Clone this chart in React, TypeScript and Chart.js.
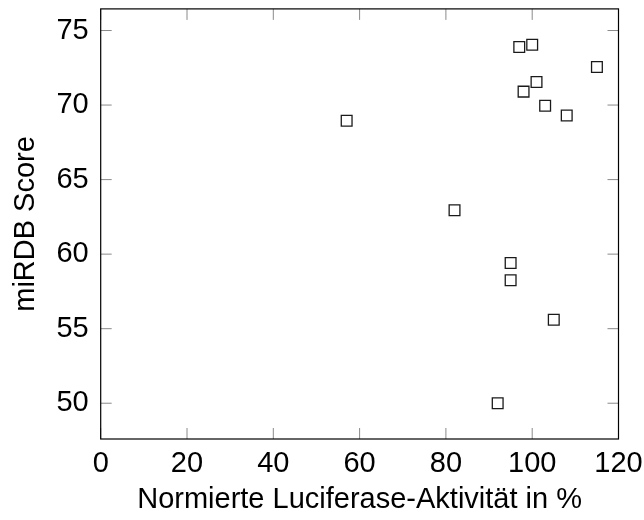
import { useEffect, useRef } from "react";
import { Chart, registerables } from "chart.js";

Chart.register(...registerables);

// Normalised luciferase activity (%) against miRDB target score
const activity = [97, 100, 115, 101, 98, 103, 108, 57, 82, 95, 95, 105, 92];
const score = [73.9, 74.05, 72.55, 71.55, 70.9, 69.95, 69.3, 68.95, 62.95, 59.4, 58.25, 55.6, 50.0];

const xTickValues = [0, 20, 40, 60, 80, 100, 120];
const yTickValues = [50, 55, 60, 65, 70, 75];

const xLabel = "Normierte Luciferase-Aktivität in %";
const yLabel = "miRDB Score";

const FONT = "'Liberation Sans', Arial, Helvetica, sans-serif";

// Closed frame with short inward ticks on all four sides
const framePlugin = {
  id: "frame",
  beforeDatasetsDraw(chart: any) {
    const { ctx, chartArea: a, scales } = chart;
    const len = 11;
    ctx.save();
    ctx.strokeStyle = "#8a8a8a";
    ctx.lineWidth = 1;
    ctx.beginPath();
    for (const v of xTickValues) {
      const px = scales.x.getPixelForValue(v);
      ctx.moveTo(px, a.bottom);
      ctx.lineTo(px, a.bottom - len);
      ctx.moveTo(px, a.top);
      ctx.lineTo(px, a.top + len);
    }
    for (const v of yTickValues) {
      const py = scales.y.getPixelForValue(v);
      ctx.moveTo(a.left, py);
      ctx.lineTo(a.left + len, py);
      ctx.moveTo(a.right, py);
      ctx.lineTo(a.right - len, py);
    }
    ctx.stroke();
    ctx.restore();
  },
  afterDatasetsDraw(chart: any) {
    const { ctx, chartArea: a } = chart;
    ctx.save();
    ctx.strokeStyle = "#000";
    ctx.lineWidth = 1.2;
    ctx.strokeRect(a.left, a.top, a.right - a.left, a.bottom - a.top);
    ctx.restore();
  },
};

// Fixed axis thickness; label overflow is absorbed by the outer layout padding
function fixSize(size: number) {
  return (scale: any) => {
    if (scale.isHorizontal()) scale.height = size;
    else scale.width = size;
    scale.paddingLeft = 0;
    scale.paddingRight = 0;
    scale.paddingTop = 0;
    scale.paddingBottom = 0;
  };
}

export default function App() {
  const canvasRef = useRef<HTMLCanvasElement | null>(null);

  useEffect(() => {
    if (!canvasRef.current) return;
    const chart = new Chart(canvasRef.current, {
      type: "scatter",
      data: {
        datasets: [
          {
            data: activity.map((x, i) => ({ x, y: score[i] })),
            pointStyle: "rect",
            pointRadius: 7.6,
            pointBorderWidth: 1.3,
            pointBorderColor: "#1a1a1a",
            pointBackgroundColor: "#ffffff",
          },
        ],
      },
      options: {
        animation: false,
        responsive: false,
        layout: { padding: { top: 8.7, right: 25.5, left: 0, bottom: 0 } },
        plugins: { legend: { display: false }, tooltip: { enabled: false } },
        scales: {
          x: {
            type: "linear",
            min: 0,
            max: 120,
            afterFit: fixSize(81),
            grid: { display: false, drawTicks: false },
            border: { display: false },
            ticks: {
              stepSize: 20,
              includeBounds: false,
              padding: 8,
              color: "#000",
              font: { family: FONT, size: 29 },
            },
            title: {
              display: true,
              text: xLabel,
              color: "#000",
              padding: { top: 0, bottom: 3 },
              font: { family: FONT, size: 29 },
            },
          },
          y: {
            type: "linear",
            min: 47.6,
            max: 76.45,
            afterFit: fixSize(100.7),
            grid: { display: false, drawTicks: false },
            border: { display: false },
            ticks: {
              stepSize: 5,
              includeBounds: false,
              padding: 12,
              color: "#000",
              font: { family: FONT, size: 29 },
            },
            title: {
              display: true,
              text: yLabel,
              color: "#000",
              padding: { top: 9, bottom: 0 },
              font: { family: FONT, size: 29 },
            },
          },
        },
      },
      plugins: [framePlugin],
    });
    return () => chart.destroy();
  }, []);

  return (
    <div style={{ position: "fixed", left: 0, top: 0, width: 644, height: 520, background: "#fff" }}>
      <canvas ref={canvasRef} width={644} height={520} />
    </div>
  );
}
